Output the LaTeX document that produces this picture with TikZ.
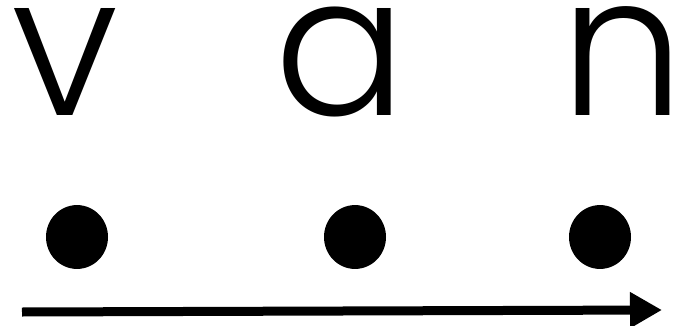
\documentclass[tikz,border=0pt]{standalone}
\usepackage{fontspec}
\setmainfont{Poppins Light}
\usetikzlibrary{arrows.meta}
\begin{document}
\begin{tikzpicture}[x=1pt,y=-1pt,
  letter/.style={inner sep=0pt,anchor=base,font=\fontsize{196}{196}\selectfont},
  dot/.style={fill=black,circle,minimum size=62pt,inner sep=0pt,yscale=1.03},
  timeline/.style={line width=9pt,-{Triangle[length=32pt,width=34pt]}}]
\useasboundingbox (0,0) rectangle (679,326);
\node[letter] (v) at (65,116) {v};
\node[letter] (a) at (341,116) {a};
\node[letter] (n) at (623,116) {n};
\node[dot] (d1) at (77,237) {};
\node[dot] (d2) at (355,237) {};
\node[dot] (d3) at (600,237) {};
\coordinate (s) at (22,312);
\coordinate (e) at (662,310);
\draw[timeline] (s) -- (e);
\end{tikzpicture}
\end{document}
